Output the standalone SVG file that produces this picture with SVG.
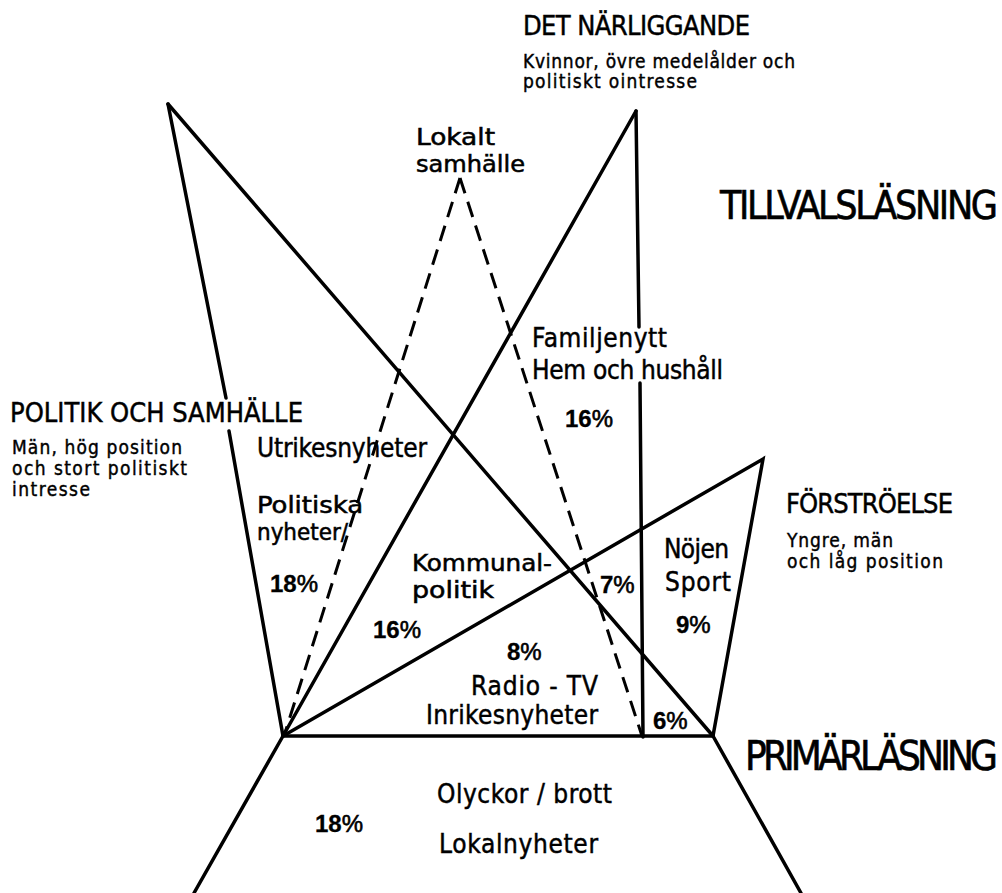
<svg xmlns="http://www.w3.org/2000/svg" width="1002" height="893" viewBox="0 0 1002 893">
<style>
text{font-family:"DejaVu Sans Condensed","DejaVu Sans",sans-serif;font-stretch:condensed;fill:#000;stroke:#000;stroke-width:0.45}
.h1{font-size:39px;stroke-width:0.6}
.h2{font-size:27px}
.sm{font-size:19px;stroke-width:0.4}
.md{font-size:26px}
.tt{font-size:23px;stroke-width:0.5}
.pc{font-size:24px;font-weight:bold;font-family:"Liberation Sans",sans-serif;font-stretch:normal;stroke-width:0.3}
.pc tspan{font-weight:normal;stroke-width:0.6}
.ln{stroke:#000;stroke-width:3.5;fill:none;stroke-linejoin:miter;stroke-linecap:round}
.ds{stroke:#000;stroke-width:3;fill:none;stroke-dasharray:16 9}
</style>
<rect width="1002" height="893" fill="#fff"/>
<g id="connectors">
<line class="ln" x1="168" y1="104" x2="226" y2="398"/>
<line class="ln" x1="229" y1="431" x2="283" y2="736"/>
<line class="ln" x1="168" y1="104" x2="713" y2="736"/>
<line class="ln" x1="636" y1="111" x2="283" y2="736"/>
<line class="ln" x1="636" y1="111" x2="639" y2="327"/>
<line class="ln" x1="640" y1="383" x2="643" y2="737"/>
<line class="ds" x1="460" y1="178" x2="284" y2="736"/>
<line class="ds" x1="460" y1="178" x2="642" y2="736"/>
<polyline class="ln" points="283,736 763,459 713,736"/>
<line class="ln" x1="283" y1="736" x2="713" y2="736"/>
<line class="ln" x1="283" y1="736" x2="194" y2="893"/>
<line class="ln" x1="713" y1="736" x2="801" y2="893"/>
</g>
<g id="det-narliggande">
<text class="h2" x="523" y="35" textLength="227">DET NÄRLIGGANDE</text>
<text class="sm" x="523" y="68" textLength="272">Kvinnor, övre medelålder och</text>
<text class="sm" x="523" y="88" textLength="174">politiskt ointresse</text>
</g>
<g id="tillvalslasning">
<text class="h1" x="720" y="219" textLength="278">TILLVALSLÄSNING</text>
</g>
<g id="lokalt-samhalle">
<text class="tt" x="416" y="145" textLength="79" lengthAdjust="spacingAndGlyphs">Lokalt</text>
<text class="tt" x="416" y="172" textLength="109" lengthAdjust="spacingAndGlyphs">samhälle</text>
</g>
<g id="familjenytt">
<text class="md" x="532" y="347" textLength="135">Familjenytt</text>
<text class="md" x="532" y="379" textLength="191">Hem och hushåll</text>
<text class="pc" x="565" y="427">16<tspan>%</tspan></text>
</g>
<g id="politik-och-samhalle">
<text class="h2" x="10" y="422" textLength="293">POLITIK OCH SAMHÄLLE</text>
<text class="sm" x="12" y="454" textLength="170">Män, hög position</text>
<text class="sm" x="12" y="475" textLength="175">och stort politiskt</text>
<text class="sm" x="12" y="496" textLength="78">intresse</text>
</g>
<g id="utrikes">
<text class="md" x="257" y="457" textLength="170">Utrikesnyheter</text>
<text class="tt" x="257" y="513" textLength="106" lengthAdjust="spacingAndGlyphs">Politiska</text>
<text class="tt" x="257" y="540" textLength="91" lengthAdjust="spacingAndGlyphs">nyheter/</text>
<text class="pc" x="270" y="592">18<tspan>%</tspan></text>
<text class="pc" x="373" y="638">16<tspan>%</tspan></text>
</g>
<g id="kommunal">
<text class="tt" x="412" y="571" textLength="140" lengthAdjust="spacingAndGlyphs">Kommunal-</text>
<text class="tt" x="412" y="598" textLength="82" lengthAdjust="spacingAndGlyphs">politik</text>
<text class="pc" x="600" y="593">7<tspan>%</tspan></text>
</g>
<g id="nojen">
<text class="md" x="664" y="558" textLength="65">Nöjen</text>
<text class="md" x="665" y="591" textLength="66">Sport</text>
<text class="pc" x="676" y="633">9<tspan>%</tspan></text>
</g>
<g id="radio-tv">
<text class="pc" x="507" y="660">8<tspan>%</tspan></text>
<text class="md" x="471" y="695" textLength="127">Radio - TV</text>
<text class="md" x="426" y="724" textLength="172">Inrikesnyheter</text>
<text class="pc" x="653" y="729">6<tspan>%</tspan></text>
</g>
<g id="forstroelse">
<text class="h2" x="786" y="513" textLength="167">FÖRSTRÖELSE</text>
<text class="sm" x="787" y="547" textLength="106">Yngre, män</text>
<text class="sm" x="787" y="568" textLength="156">och låg position</text>
</g>
<g id="primarlasning">
<text class="h1" x="745" y="770" textLength="253" style="font-size:40px">PRIMÄRLÄSNING</text>
</g>
<g id="lokalnyheter">
<text class="md" x="437" y="803" textLength="175">Olyckor / brott</text>
<text class="pc" x="315" y="832">18<tspan>%</tspan></text>
<text class="md" x="439" y="853" textLength="159">Lokalnyheter</text>
</g>
</svg>
